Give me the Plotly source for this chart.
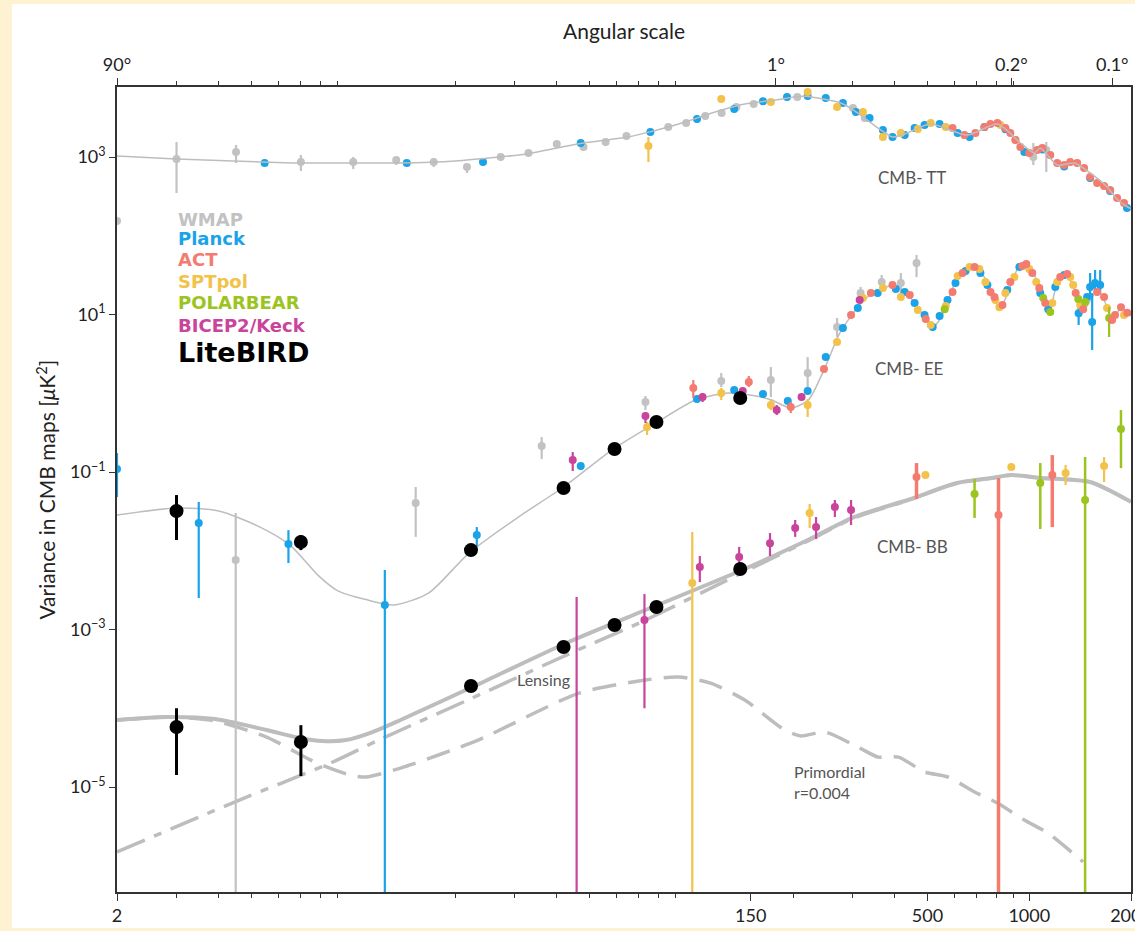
import math
import plotly.graph_objects as go

# ---------------- theory curves (ell, D_ell in uK^2) ----------------
tt_ell = [2, 3, 4.4, 7, 10, 13.8, 20, 27, 33, 46, 65, 76, 96, 115, 144, 178, 214, 277, 311, 357,
          394, 428, 511, 656, 805, 942, 1035, 1078, 1211, 1359, 1514, 1699, 1828, 1955, 2000]
tt_val = [1030, 943, 890, 839, 839, 839, 890, 1000, 1100, 1462, 1795, 2100, 2782, 3620, 4711, 5294, 5900, 4850, 3620, 2335,
          1795, 1960, 2624, 1900, 2624, 1506, 1124, 1301, 791, 839, 627, 416, 284, 232, 222]

ee_ell = [2, 3, 4, 5.3, 6.5, 7.9, 9, 10.9, 13.2, 16.7, 22, 30.8, 41.9, 58.2, 78.5, 103, 129, 161, 173, 197, 222,
          249, 275, 311, 338, 373, 394, 428, 458, 491, 519, 549, 575, 616, 674, 722, 758, 805, 823, 864, 927,
          975, 1037, 1078, 1147, 1211, 1281, 1383, 1449, 1595, 1680, 1765, 1868, 2000]
ee_val = [0.0284, 0.0349, 0.032, 0.02, 0.0118, 0.0048, 0.0031, 0.0024, 0.00205, 0.0029, 0.00935, 0.0268, 0.0645, 0.19,
          0.419, 0.82, 1.01, 0.895, 0.82, 0.65, 0.82, 2.15, 5.82, 12.4, 17.7, 21.7, 23.7, 19.3, 14.0, 9.03, 6.94, 9.3,
          15.3, 29.9, 40.1, 33.6, 23.7, 13.2, 12.4, 18.7, 38.9, 43.8, 31.7, 18.7, 11.4, 25.1, 31.7, 18.7, 11.4, 20.5,
          14.0, 8.5, 12.1, 9.6]

bb_ell = [2, 2.81, 3.9, 5.54, 6.93, 8.1, 9.52, 11.4, 13.8, 22.5, 42.7, 73.3, 137, 215, 303, 437, 612, 773, 886, 1078,
          1514, 1955, 2000]
bb_val = [7.1e-5, 7.75e-5, 7.3e-5, 5.3e-5, 4.19e-5, 3.84e-5, 3.95e-5, 4.99e-5, 7.1e-5, 1.86e-4, 6.75e-4, 1.77e-3, 5.37e-3,
          0.0129, 0.0268, 0.0441, 0.0725, 0.0839, 0.0916, 0.0839, 0.0746, 0.0441, 0.0416]

lens_ell = [2, 4.4, 8.7, 11.9, 22.5, 42.7, 73.3, 137, 215, 303, 437, 612, 773, 886, 1078, 1514, 1955, 2000]
lens_val = [1.5e-6, 6.3e-6, 2.08e-5, 3.95e-5, 1.35e-4, 4.74e-4, 1.32e-3, 4.92e-3, 0.0125, 0.026, 0.0435, 0.0722, 0.0837,
            0.0915, 0.0838, 0.0745, 0.044, 0.0415]

prim_ell = [2, 2.81, 3.9, 5.54, 7.8, 9.8, 10.9, 13.8, 23.4, 46.6, 73.3, 91.5, 114, 144, 189, 211, 248, 311, 357, 410,
            491, 575, 689, 805, 967, 1135, 1443]
prim_val = [7.1e-5, 7.75e-5, 6.9e-5, 4.3e-5, 2.02e-5, 1.42e-5, 1.34e-5, 1.74e-5, 3.95e-5, 1.56e-4, 2.29e-4, 2.5e-4, 2.09e-4,
            1.27e-4, 5.3e-5, 4.45e-5, 4.99e-5, 3.22e-5, 2.4e-5, 2.4e-5, 1.55e-5, 1.34e-5, 8.65e-6, 6.27e-6, 3.81e-6,
            2.61e-6, 1.12e-6]

BOTTOM = 1e-9  # lower error bound that runs off the bottom of the chart

# ---------------- TT data ----------------
wmap_tt_ell = [2, 3, 4.5, 7, 10, 13.4, 17.3, 21.7, 27.3, 33, 40, 48, 55.8, 64.3, 85.5, 96.6, 110, 123, 136, 153,
               206, 301, 326, 1028, 1123]
wmap_tt_val = [154, 944, 1157, 864, 864, 916, 864, 746, 1000, 1124, 1462, 1340, 1550, 1848, 2404, 2702, 3316, 3620, 4314,
               4710, 5780, 4190, 3128, 1000, 1227]
wmap_tt_lo = [None, 349, 839, 664, 704, 791, 746, 626] + [None] * 15 + [791, 645]
wmap_tt_hi = [None, 1550, 1420, 1060, 1000, 1000, 970, 839] + [None] * 15 + [1506, 1550]

planck_tt_ell = [5.47, 14.4, 24.2, 47.1, 75.7, 104, 134, 163, 192, 221, 250, 281, 307, 337, 369, 394, 428, 458, 490, 543,
                 614, 666, 737, 850, 967, 1093, 1269, 1514, 1735, 1946]
planck_tt_val = [839, 839, 864, 1506, 2078, 3038, 4069, 5100, 5780, 5952, 5614, 4850, 3727, 3128, 2203, 1795, 1903, 2335,
                 2549, 2624, 2018, 1795, 2404, 2250, 1157, 1250, 760, 540, 370, 225]

spt_tt_ell = [74.7, 122.7, 172, 221, 270, 322, 369, 417, 468, 511, 566, 822, 910]
spt_tt_val = [1379, 5451, 4994, 6690, 4314, 3727, 1795, 2018, 2268, 2702, 2404, 2549, 1644]
spt_tt_lo = [864] + [None] * 12
spt_tt_hi = [1795] + [None] * 12

act_tt_ell = [593, 643, 693, 737, 768, 805, 850, 879, 910, 941, 1000, 1056, 1093, 1154, 1210, 1269, 1322, 1386, 1453,
              1514, 1588, 1665, 1735, 1819, 1907]
act_tt_val = [2335, 1903, 2018, 2404, 2624, 2702, 2335, 2018, 1644, 1340, 1124, 1227, 1301, 1060, 839, 791, 864, 839, 725,
              557, 468, 428, 381, 302, 261]

# ---------------- EE data ----------------
wmap_ee_ell = [4.49, 15.3, 36.1, 73.2, 122.7, 172, 221, 270, 317, 366, 417, 464]
wmap_ee_val = [0.00763, 0.0404, 0.214, 0.774, 1.43, 1.47, 1.81, 6.94, 18.7, 25.9, 25.1, 45.1]
wmap_ee_lo = [BOTTOM, 0.015, 0.146, 0.612, 1.2, 0.895, 1.04, 5.18, 14.0, 21.7, 16.7, 29.9]
wmap_ee_hi = [0.0301, 0.0646, 0.278, 0.923, 1.81, 2.15, 2.88, 9.03, 22.4, 31.7, 33.6, 57]

planck_ee_ell = [2, 3.49, 6.43, 12.4, 23.2, 47.1, 104, 134, 163, 193, 221, 250, 281, 311, 356, 403, 428, 458, 490, 518,
                 543, 573, 605, 648, 717, 752, 861, 935, 1078, 1138, 1194, 1269, 1400, 1483, 1514, 1535, 1566, 1621]
planck_ee_val = [0.109, 0.0225, 0.0122, 0.00205, 0.0158, 0.119, 0.845, 1.1, 0.977, 0.798, 1.07, 2.88, 6.74, 12.1, 18.7,
                 21.1, 19.3, 14.0, 9.86, 6.94, 9.57, 15.3, 25.1, 35.7, 33.6, 23.7, 20.5, 40.1, 18.7, 11.7, 22.4, 31.7,
                 10.4, 16.7, 22.4, 8.03, 25.1, 23.7]
planck_ee_lo = [0.048, 0.00251, 0.00698, BOTTOM, 0.0112] + [None] * 27 + [7.36, None, 16.7, 3.54, 18.7, 18.7]
planck_ee_hi = [0.174, 0.0416, 0.0183, 0.0057, 0.02] + [None] * 27 + [13.2, None, 33.6, 18.7, 36.7, 36.7]

act_ee_ell = [101.4, 148, 197, 247, 297, 340, 394, 443, 494, 593, 635, 689, 768, 789, 833, 879, 954, 980, 1021, 1071,
              1115, 1235, 1295, 1372, 1444, 1588, 1665, 1758, 1794, 1868, 1950]
act_ee_val = [1.17, 1.39, 0.668, 2.03, 9.86, 18.7, 23.7, 17.7, 8.77, 19.3, 33.6, 40.1, 19.3, 16.7, 13.2, 25.9, 41.3, 43.8,
              33.6, 21.7, 14.0, 29.9, 32.7, 18.7, 11.7, 19.3, 16.7, 8.51, 9.86, 12.4, 10.5]
act_ee_lo = [0.871, 1.2, 0.56] + [None] * 28
act_ee_hi = [1.47, 1.66, 0.774] + [None] * 28

spt_ee_ell = [74, 122.7, 172, 221, 270, 322, 369, 417, 468, 511, 566, 614, 666, 712, 742, 794, 816, 850, 904, 1000,
              1049, 1170, 1210, 1322, 1349, 1415, 1699, 1907]
spt_ee_val = [0.373, 1.01, 0.71, 0.71, 4.48, 16.2, 21.7, 16.7, 11.4, 7.36, 12.8, 30.8, 40.1, 37.8, 25.9, 15.3, 12.4,
              18.7, 29.9, 37.8, 25.9, 14.0, 25.9, 29.9, 23.7, 13.2, 12.1, 9.86]
spt_ee_lo = [0.295, 0.82, 0.612, 0.5] + [None] * 24
spt_ee_hi = [0.431, 1.17, 0.82, 0.845] + [None] * 24

pb_ee_ell = [562, 1100, 1154, 1396, 1463, 1723]
pb_ee_val = [11.7, 16.2, 10.8, 15.7, 14.4, 9.03]
pb_ee_lo = [None] * 5 + [5.18]
pb_ee_hi = [None] * 5 + [12.4]

bk_ee_ell = [44.6, 73.2, 108, 142, 179, 212, 315]
bk_ee_val = [0.142, 0.514, 0.895, 1.07, 0.612, 0.895, 15.3]
bk_ee_lo = [0.103, 0.419, 0.774, None, 0.53, None, None]
bk_ee_hi = [0.179, 0.578, 1.01, None, 0.71, None, None]

# ---------------- BB data ----------------
bk_bb_ell = [45.8, 72.7, 106, 138.6, 171, 203, 234, 266, 297]
bk_bb_val = [1e-8, 1.32e-3, 6.22e-3, 8.34e-3, 0.0125, 0.0195, 0.02, 0.036, 0.0329]
bk_bb_lo = [BOTTOM, 1.0e-4, 4.0e-3, 6.04e-3, 8.57e-3, 0.015, 0.0141, 0.0268, 0.0212]
bk_bb_hi = [2.59e-3, 2.82e-3, 8.57e-3, 0.0112, 0.0168, 0.0246, 0.0268, 0.0441, 0.0441]

spt_bb_ell = [100.7, 224, 493, 885, 1281, 1665]
spt_bb_val = [3.89e-3, 0.0301, 0.0916, 0.116, 0.097, 0.119]
spt_bb_lo = [BOTTOM, 0.0195, None, None, 0.0684, 0.0746]
spt_bb_hi = [0.0173, 0.0393, None, None, 0.123, 0.155]

act_bb_ell = [464, 811, 1170]
act_bb_val = [0.0865, 0.0285, 0.0916]
act_bb_lo = [0.0454, BOTTOM, 0.02]
act_bb_hi = [0.13, 0.0839, 0.164]

pb_bb_ell = [689, 1078, 1463, 1868]
pb_bb_val = [0.0526, 0.0725, 0.0441, 0.352]
pb_bb_lo = [0.0261, 0.0189, BOTTOM, 0.112]
pb_bb_hi = [0.0815, 0.13, 0.155, 0.612]

# ---------------- LiteBIRD forecast ----------------
lb_ell = [3, 7, 22.3, 41.9, 59.3, 78.9, 139.6]
lb_ee_val = [0.032, 0.0129, 0.0102, 0.0627, 0.196, 0.431, 0.871]
lb_ee_lo = [0.0137, 0.0102] + [None] * 5
lb_ee_hi = [0.051, 0.0158] + [None] * 5
lb_bb_val = [5.78e-5, 3.73e-5, 1.92e-4, 6.0e-4, 1.14e-3, 1.93e-3, 5.86e-3]
lb_bb_lo = [1.42e-5, 1.38e-5] + [None] * 5
lb_bb_hi = [1.0e-4, 6.1e-5] + [None] * 5

# ---------------- axes ticks ----------------
bottom_ticks = [2, 150, 500, 1000, 2000]
bottom_labels = ["2", "150", "500", "1000", "2000"]
top_ticks = [2, 178, 885, 1760]
top_labels = ["90°", "1°", "0.2°", "0.1°"]
minor_ticks = [3, 4, 5, 6, 7, 8, 9, 20, 30, 40, 50, 60, 70, 80, 90, 200, 300, 400, 500, 600, 700, 800, 900]
y_ticks = [1e-5, 1e-3, 1e-1, 1e1, 1e3]
y_labels = ["10<sup>−5</sup>", "10<sup>−3</sup>", "10<sup>−1</sup>", "10<sup>1</sup>", "10<sup>3</sup>"]

legend_names = ["WMAP", "Planck", "ACT", "SPTpol", "POLARBEAR", "BICEP2/Keck"]
COL = {
    "WMAP": "#c2c2c2",
    "Planck": "#1aa3e8",
    "ACT": "#f47b6f",
    "SPTpol": "#f2c24a",
    "POLARBEAR": "#9cc41e",
    "BICEP2/Keck": "#c9449b",
    "LiteBIRD": "#000000",
}
CURVE = "#bdbdbd"

fig = go.Figure()


def curve(x, y, width, dash="solid", xaxis="x"):
    fig.add_trace(go.Scatter(x=x, y=y, mode="lines", xaxis=xaxis,
                             line=dict(color=CURVE, width=width, dash=dash, shape="spline", smoothing=0.7),
                             hoverinfo="skip"))


def points(x, y, color, lo=None, hi=None, size=8, thick=2.2):
    plus, minus = [], []
    for i, v in enumerate(y):
        h = hi[i] if hi is not None and hi[i] is not None else v
        l = lo[i] if lo is not None and lo[i] is not None else v
        plus.append(h - v)
        minus.append(v - l)
    fig.add_trace(go.Scatter(
        x=x, y=y, mode="markers",
        marker=dict(color=color, size=size, line=dict(width=0)),
        error_y=dict(type="data", symmetric=False, array=plus, arrayminus=minus,
                     color=color, thickness=thick, width=0),
        hoverinfo="skip"))


# theory curves
curve(lens_ell, lens_val, 3.5, "30px,10px,8px,10px")
curve(prim_ell, prim_val, 3.5, "24px,12px")
curve(bb_ell, bb_val, 4)
curve(ee_ell, ee_val, 1.5)
curve(tt_ell, tt_val, 1.5, xaxis="x2")

# measurements
points(wmap_tt_ell, wmap_tt_val, COL["WMAP"], wmap_tt_lo, wmap_tt_hi)
points(wmap_ee_ell, wmap_ee_val, COL["WMAP"], wmap_ee_lo, wmap_ee_hi)
points(planck_tt_ell, planck_tt_val, COL["Planck"])
points(planck_ee_ell, planck_ee_val, COL["Planck"], planck_ee_lo, planck_ee_hi)
points(spt_tt_ell, spt_tt_val, COL["SPTpol"], spt_tt_lo, spt_tt_hi)
points(spt_ee_ell, spt_ee_val, COL["SPTpol"], spt_ee_lo, spt_ee_hi)
points(spt_bb_ell, spt_bb_val, COL["SPTpol"], spt_bb_lo, spt_bb_hi)
points(pb_ee_ell, pb_ee_val, COL["POLARBEAR"], pb_ee_lo, pb_ee_hi)
points(pb_bb_ell, pb_bb_val, COL["POLARBEAR"], pb_bb_lo, pb_bb_hi, thick=2.5)
points(bk_ee_ell, bk_ee_val, COL["BICEP2/Keck"], bk_ee_lo, bk_ee_hi)
points(bk_bb_ell, bk_bb_val, COL["BICEP2/Keck"], bk_bb_lo, bk_bb_hi)
points(act_tt_ell, act_tt_val, COL["ACT"])
points(act_ee_ell, act_ee_val, COL["ACT"], act_ee_lo, act_ee_hi)
points(act_bb_ell, act_bb_val, COL["ACT"], act_bb_lo, act_bb_hi, thick=3.5)
points(lb_ell, lb_ee_val, COL["LiteBIRD"], lb_ee_lo, lb_ee_hi, size=14, thick=3)
points(lb_ell, lb_bb_val, COL["LiteBIRD"], lb_bb_lo, lb_bb_hi, size=14, thick=3)

AX = "#333333"
TICKFONT = dict(family="Lato", size=18, color="#222222")
xrange = [math.log10(2), math.log10(2000)]
fig.update_layout(
    width=1135, height=931,
    margin=dict(l=117, r=4, t=87, b=39, autoexpand=False),
    paper_bgcolor="#fef2d2",
    plot_bgcolor="white",
    showlegend=False,
    xaxis=dict(type="log", range=xrange, tickmode="array", tickvals=bottom_ticks, ticktext=bottom_labels,
               ticks="outside", ticklen=7, tickwidth=1.2, tickcolor=AX, showline=True, linecolor=AX, linewidth=1.6,
               showgrid=False, zeroline=False, tickfont=TICKFONT, ticklabeloverflow="allow", automargin=False,
               minor=dict(tickmode="array", tickvals=minor_ticks, ticks="outside", ticklen=4, tickwidth=1,
                          tickcolor=AX, showgrid=False)),
    xaxis2=dict(type="log", range=xrange, overlaying="x", side="top", tickmode="array", tickvals=top_ticks,
                ticktext=top_labels, ticks="outside", ticklen=7, tickwidth=1.2, tickcolor=AX, showline=True,
                linecolor=AX, linewidth=1.6, showgrid=False, zeroline=False, tickfont=TICKFONT,
                ticklabeloverflow="allow", automargin=False,
                minor=dict(tickmode="array", tickvals=minor_ticks, ticks="outside", ticklen=4, tickwidth=1,
                           tickcolor=AX, showgrid=False)),
    yaxis=dict(type="log", range=[-6.333, 3.889], tickmode="array", tickvals=y_ticks, ticktext=y_labels,
               ticks="outside", ticklen=6, tickwidth=1.2, tickcolor=AX, showline=True, linecolor=AX, linewidth=1.6,
               mirror=True, showgrid=False, zeroline=False, tickfont=TICKFONT, automargin=False),
)

# white page panel on the cream background
fig.add_shape(type="rect", xref="paper", yref="paper", x0=-0.1036, x1=1.02, y0=-0.0447, y1=1.1031,
              fillcolor="white", line=dict(width=0), layer="below")

ann = []
ann.append(dict(text="Angular scale", x=0.5, y=1.0708, xref="paper", yref="paper", showarrow=False,
                xanchor="center", yanchor="middle", font=dict(family="Lato", size=21, color="#222222")))
ann.append(dict(text="Variance in CMB maps [<i>μ</i>K<sup>2</sup>]", x=-0.0709, y=0.5, xref="paper", yref="paper",
                showarrow=False, textangle=-90, xanchor="center", yanchor="middle",
                font=dict(family="Lato", size=21, color="#222222")))
legend_y = [0.8348, 0.8112, 0.7851, 0.7590, 0.7329, 0.7043]
for name, yy in zip(legend_names, legend_y):
    ann.append(dict(text="<b>%s</b>" % name, x=0.058, y=yy, xref="paper", yref="paper", showarrow=False,
                    xanchor="left", yanchor="middle", font=dict(family="DejaVu Sans", size=18, color=COL[name])))
ann.append(dict(text="<b>LiteBIRD</b>", x=0.058, y=0.6708, xref="paper", yref="paper", showarrow=False,
                xanchor="left", yanchor="middle", font=dict(family="DejaVu Sans", size=27, color="#000000")))
LAB = dict(family="Lato", size=17, color="#555555")
for txt, xx, yy in [("CMB- TT", 0.7844, 0.887), ("CMB- EE", 0.7815, 0.6497), ("CMB- BB", 0.7844, 0.4298)]:
    ann.append(dict(text=txt, x=xx, y=yy, xref="paper", yref="paper", showarrow=False,
                    xanchor="center", yanchor="middle", font=LAB))
ann.append(dict(text="Lensing", x=0.4203, y=0.2634, xref="paper", yref="paper", showarrow=False,
                xanchor="center", yanchor="middle", font=dict(family="Lato", size=16, color="#555555")))
ann.append(dict(text="Primordial<br>r=0.004", x=0.6654, y=0.1366, xref="paper", yref="paper", showarrow=False,
                xanchor="left", yanchor="middle", align="left",
                font=dict(family="Lato", size=16, color="#555555")))
fig.update_layout(annotations=ann)

# place the figure at the page origin (no default body margin, no scrollbars), no mode bar
fig.write_html("out.html",
               config={"displayModeBar": False},
               post_script="document.body.style.margin='0';document.body.style.overflow='hidden';")
